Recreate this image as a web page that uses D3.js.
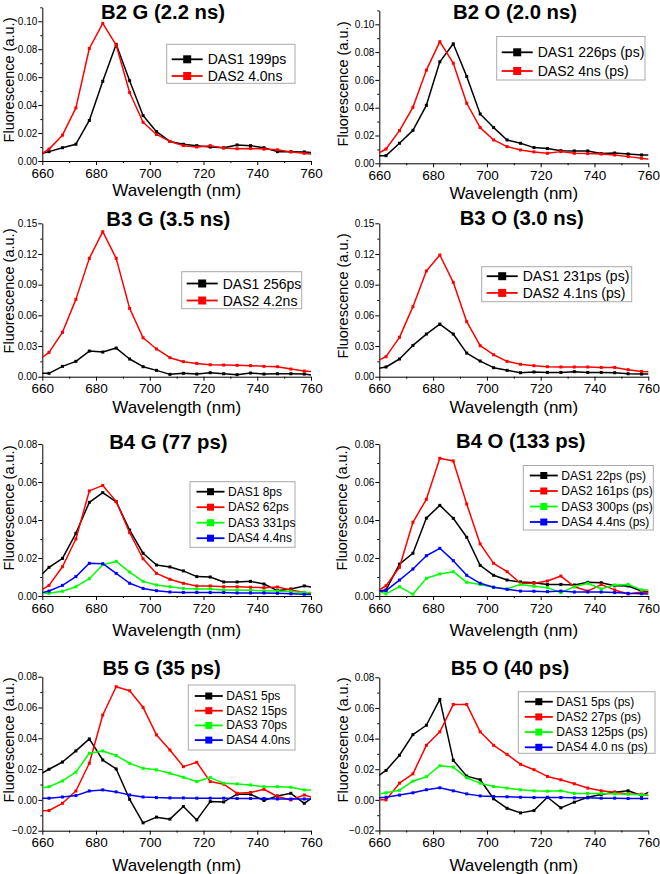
<!DOCTYPE html>
<html><head><meta charset="utf-8">
<script src="https://cdn.jsdelivr.net/npm/d3@7"></script>
<style>
body{margin:0;background:#fff}
svg{display:block}
text{font-family:Arial,"Liberation Sans",sans-serif;fill:#000}
</style>
</head><body>
<svg id="chart" width="660" height="874"></svg>
<script>
// ---------- DATA ----------
const wavelengths = [657.5,662.5,667.5,672.5,677.5,682.5,687.5,692.5,697.5,702.5,707.5,712.5,717.5,722.5,727.5,732.5,737.5,742.5,747.5,752.5,757.5,762.5];
const xTicks = [660,680,700,720,740,760];
const seriesColors = ["#000000","#ff0000","#00ff00","#0000ff"];

const b2g_das1 = [0.0043,0.0067,0.0095,0.012,0.029,0.057,0.0835,0.0575,0.0325,0.021,0.014,0.012,0.011,0.010,0.0095,0.0115,0.011,0.0095,0.0067,0.0067,0.0065,0.0055];
const b2g_das2 = [0.0025,0.0085,0.0185,0.038,0.0805,0.0985,0.083,0.049,0.0277,0.019,0.014,0.011,0.010,0.011,0.0093,0.0088,0.009,0.0085,0.008,0.0065,0.0055,0.0045];
const b2g_labels = ["DAS1 199ps","DAS2 4.0ns"];

const b2o_das1 = [0.0055,0.0055,0.0144,0.0237,0.0417,0.073,0.086,0.0624,0.0355,0.0257,0.0168,0.0144,0.0113,0.0106,0.0091,0.0089,0.0089,0.007,0.0074,0.0067,0.006,0.006];
const b2o_das2 = [0.005,0.0103,0.0235,0.0403,0.067,0.0875,0.072,0.0432,0.0257,0.0168,0.012,0.0096,0.0082,0.0072,0.0084,0.0072,0.007,0.0067,0.006,0.0048,0.0036,0.0025];
const b2o_labels = ["DAS1 226ps (ps)","DAS2 4ns (ps)"];

const b3g_das1 = [0.0033,0.0033,0.0101,0.015,0.0251,0.0241,0.028,0.0173,0.0098,0.0062,0.0023,0.0033,0.0026,0.0039,0.0029,0.002,0.0036,0.0026,0.0029,0.0029,0.0026,0.0008];
const b3g_das2 = [0.014,0.0238,0.0434,0.0756,0.1157,0.1418,0.1157,0.0668,0.0381,0.0271,0.0186,0.0147,0.013,0.0117,0.0114,0.0111,0.0108,0.0101,0.0098,0.0075,0.0055,0.0045];
const b3g_labels = ["DAS1 256ps","DAS2 4.2ns"];

const b3o_das1 = [0.007,0.0095,0.0173,0.0306,0.0417,0.0515,0.0417,0.0231,0.0153,0.0088,0.0062,0.0039,0.0046,0.0042,0.0042,0.0049,0.0042,0.0042,0.0039,0.0029,0.0026,0.0026];
const b3o_das2 = [0.013,0.0196,0.0385,0.0685,0.1034,0.119,0.0923,0.0538,0.0303,0.0215,0.015,0.0121,0.0108,0.0098,0.0095,0.0095,0.0095,0.0091,0.0091,0.0068,0.0052,0.0045];
const b3o_labels = ["DAS1 231ps (ps)","DAS2 4.1ns (ps)"];

const b4g_das1 = [0.0081,0.0151,0.0198,0.033,0.0493,0.0544,0.0496,0.0347,0.0225,0.0163,0.0153,0.0132,0.0102,0.010,0.0074,0.0074,0.0077,0.0063,0.0028,0.0037,0.0053,0.0042];
const b4g_das2 = [0.0014,0.0056,0.0154,0.030,0.0553,0.0582,0.0498,0.0333,0.0196,0.0119,0.0088,0.0067,0.0053,0.0053,0.0049,0.0049,0.0046,0.0044,0.0047,0.0032,0.0019,0.001];
const b4g_das3 = [0.0014,0.0014,0.0025,0.0049,0.0091,0.0165,0.0182,0.0126,0.0077,0.0058,0.0049,0.004,0.0037,0.0037,0.0032,0.0032,0.003,0.0028,0.0026,0.0023,0.0019,0.0017];
const b4g_das4 = [0.001,0.0026,0.0056,0.0102,0.0172,0.017,0.0119,0.0067,0.004,0.0028,0.0021,0.0019,0.0019,0.0018,0.0018,0.0016,0.0016,0.0016,0.0014,0.0012,0.0009,0.0006];
const b4g_labels = ["DAS1 8ps","DAS2 62ps","DAS3 331ps","DAS4 4.4ns"];

const b4o_das1 = [0.002,0.0032,0.0168,0.0225,0.041,0.0477,0.0409,0.0309,0.0161,0.0109,0.0084,0.0074,0.007,0.006,0.0061,0.0058,0.0072,0.007,0.0054,0.0053,0.0026,0.002];
const b4o_das2 = [0.001,0.0054,0.0151,0.0388,0.0509,0.0725,0.0711,0.0484,0.0274,0.0172,0.0128,0.0067,0.0067,0.0079,0.0105,0.0049,0.0026,0.006,0.0032,0.0011,0.0021,0.0018];
const b4o_das3 = [0.0035,0.0011,0.0049,0.0009,0.0093,0.0116,0.0128,0.0072,0.006,0.0046,0.0037,0.0061,0.0051,0.0044,0.0018,0.0049,0.0067,0.0037,0.0058,0.0061,0.0032,0.0032];
const b4o_das4 = [0.002,0.0028,0.0084,0.0142,0.0212,0.0251,0.0186,0.0109,0.0067,0.0046,0.0035,0.0026,0.0025,0.0023,0.0026,0.0021,0.0021,0.0021,0.0018,0.0014,0.0012,0.001];
const b4o_labels = ["DAS1 22ps (ps)","DAS2 161ps (ps)","DAS3 300ps (ps)","DAS4 4.4ns (ps)"];

const b5g_das1 = [0.015,0.0199,0.0246,0.0318,0.0396,0.0259,0.0201,0.0004,-0.0149,-0.0112,-0.0125,-0.0043,-0.013,-0.0011,-0.0013,0.0037,0.0037,-0.0004,0.0026,0.0043,-0.0022,0.004];
const b5g_das2 = [-0.0073,-0.0069,-0.0022,0.0058,0.0238,0.0551,0.0735,0.0709,0.0601,0.0422,0.0324,0.0216,0.0244,0.0119,0.0102,0.0043,0.0048,0.0069,0.0022,0.0,0.0032,0.0005];
const b5g_das3 = [0.0068,0.0086,0.0123,0.018,0.0303,0.0318,0.0288,0.0238,0.0205,0.0195,0.0173,0.0147,0.0119,0.0145,0.0108,0.0104,0.0097,0.0086,0.0086,0.0082,0.0065,0.0063];
const b5g_das4 = [0.001,0.0011,0.0019,0.0028,0.0058,0.0065,0.0052,0.0032,0.0019,0.0015,0.0013,0.0013,0.0011,0.0011,0.0011,0.0009,0.0009,0.0009,0.0006,0.0006,0.0006,0.0006];
const b5g_labels = ["DAS1 5ps","DAS2 15ps","DAS3 70ps","DAS4 4.0ns"];

const b5o_das1 = [0.013,0.0192,0.0291,0.0426,0.0487,0.0656,0.0258,0.0155,0.0131,0.0007,-0.0055,-0.0085,-0.007,0.0017,-0.0052,-0.0015,0.0017,0.0035,0.005,0.0059,0.0028,0.007];
const b5o_das2 = [0.0,0.0,0.0109,0.017,0.0356,0.0444,0.0623,0.0623,0.0444,0.0356,0.0297,0.0232,0.0197,0.0153,0.0131,0.0105,0.0077,0.0059,0.005,0.0039,0.0037,0.002];
const b5o_das3 = [0.003,0.0046,0.0063,0.0122,0.0151,0.0223,0.0214,0.0144,0.0109,0.0087,0.0077,0.0066,0.0059,0.0057,0.0059,0.0042,0.0042,0.0042,0.0039,0.0037,0.0033,0.0028];
const b5o_das4 = [0.001,0.0017,0.0031,0.0046,0.0066,0.0079,0.0059,0.0039,0.0026,0.0022,0.002,0.0017,0.0015,0.0015,0.0015,0.0013,0.0013,0.0011,0.0011,0.0009,0.0009,0.0009];
const b5o_labels = ["DAS1 5ps (ps)","DAS2 27ps (ps)","DAS3 125ps (ps)","DAS4 4.0 ns (ps)"];

const titles = ["B2 G (2.2 ns)","B2 O (2.0 ns)","B3 G (3.5 ns)","B3 O (3.0 ns)","B4 G (77 ps)","B4 O (133 ps)","B5 G (35 ps)","B5 O (40 ps)"];
const yTicksA = [0,0.02,0.04,0.06,0.08,0.10];
const yTicksB = [0,0.03,0.06,0.09,0.12,0.15];
const yTicksC = [0,0.02,0.04,0.06,0.08];
const yTicksD = [-0.02,0,0.02,0.04,0.06,0.08];

// ---------- LAYOUT ----------
const L = {x0:42.3, x1:311}, R = {x0:379.3, x1:648.3};
const leg2 = {font:14, ms:8, ll:31, pad:5, gap:5};
const leg4 = {font:12, ms:7, ll:28, pad:6.5, gap:3.5};
const panels = [
 {col:L, series:[b2g_das1,b2g_das2], labels:b2g_labels, dom:[0,0.11], yp:[161,7.3], ticks:yTicksA, minorStep:0.01,
  title:[163,18.6], yt:[9,80], xtY:196, leg:Object.assign({x:166.7,y:44.3,w:128.3,h:39,first:15,row:16.7}, leg2)},
 {col:R, series:[b2o_das1,b2o_das2], labels:b2o_labels, dom:[0,0.11], yp:[163.3,10.4], ticks:yTicksA, minorStep:0.01,
  title:[515,18.6], yt:[343,84], xtY:198.5, leg:Object.assign({x:496.7,y:36.5,w:148.3,h:43.5,first:15.8,row:18.7}, leg2)},
 {col:L, series:[b3g_das1,b3g_das2], labels:b3g_labels, dom:[0,0.15], yp:[376.7,223.3], ticks:yTicksB, minorStep:0.015,
  title:[168.3,225.7], yt:[9,291], xtY:412.5, leg:Object.assign({x:181.7,y:271.7,w:120,h:37,first:11.8,row:17}, leg2)},
 {col:R, series:[b3o_das1,b3o_das2], labels:b3o_labels, dom:[0,0.15], yp:[376.7,223.3], ticks:yTicksB, minorStep:0.015,
  title:[521.7,225], yt:[343,296], xtY:412.5, leg:Object.assign({x:481.7,y:266.7,w:150,h:35,first:9.5,row:16.7}, leg2)},
 {col:L, series:[b4g_das1,b4g_das2,b4g_das3,b4g_das4], labels:b4g_labels, dom:[0,0.08], yp:[596,444], ticks:yTicksC, minorStep:0.01,
  title:[168.3,449.3], yt:[9,508], xtY:636, leg:Object.assign({x:190,y:481.7,w:105,h:65.6,first:10,row:15.5}, leg4)},
 {col:R, series:[b4o_das1,b4o_das2,b4o_das3,b4o_das4], labels:b4o_labels, dom:[0,0.08], yp:[596,444], ticks:yTicksC, minorStep:0.01,
  title:[520.8,448.3], yt:[342,508], xtY:636, leg:Object.assign({x:523.3,y:465.5,w:130,h:64.5,first:10,row:15.5}, leg4)},
 {col:L, series:[b5g_das1,b5g_das2,b5g_das3,b5g_das4], labels:b5g_labels, dom:[-0.02,0.08], yp:[830.7,676.7], ticks:yTicksD, minorStep:0.01,
  title:[161.7,675], yt:[9,740], xtY:871, leg:Object.assign({x:188.3,y:685,w:106.7,h:65,first:11,row:14.7}, leg4)},
 {col:R, series:[b5o_das1,b5o_das2,b5o_das3,b5o_das4], labels:b5o_labels, dom:[-0.02,0.08], yp:[830.5,677.3], ticks:yTicksD, minorStep:0.01,
  title:[510,675], yt:[343,740], xtY:871, leg:Object.assign({x:518.3,y:691.7,w:136.7,h:61.6,first:10,row:15.2}, leg4)}
];

const svg = d3.select("#chart");
const fmt = d3.format(".2f");

panels.forEach((p, pi) => {
  const g = svg.append("g");
  const x = d3.scaleLinear().domain([660,760]).range([p.col.x0, p.col.x1]);
  const y = d3.scaleLinear().domain(p.dom).range(p.yp);
  const yBottom = p.yp[0];

  const cid = "clip" + pi;
  svg.append("clipPath").attr("id", cid).append("rect")
    .attr("x", p.col.x0).attr("y", p.yp[1] - 40).attr("width", p.col.x1 - p.col.x0).attr("height", yBottom - p.yp[1] + 80);

  // minor ticks
  const xMinor = d3.range(670, 760, 20);
  g.append("g").attr("transform", `translate(0,${yBottom})`)
    .call(d3.axisBottom(x).tickValues(xMinor).tickSize(2).tickFormat(""))
    .call(s => s.select(".domain").remove()).selectAll("line").attr("stroke","#000");
  const yMinor = [];
  for (let v = p.dom[0] + p.minorStep; v < p.dom[1] + 1e-9; v += p.minorStep * 2) yMinor.push(+v.toFixed(4));
  g.append("g").attr("transform", `translate(${p.col.x0},0)`)
    .call(d3.axisLeft(y).tickValues(yMinor).tickSize(2).tickFormat(""))
    .call(s => s.select(".domain").remove()).selectAll("line").attr("stroke","#000");

  // axes
  const xa = g.append("g").attr("transform", `translate(0,${yBottom})`)
    .call(d3.axisBottom(x).tickValues(xTicks).tickSize(4).tickPadding(3).tickSizeOuter(0));
  xa.selectAll("text").attr("font-size", 13.5).attr("font-family", "Arial, 'Liberation Sans', sans-serif");
  const ya = g.append("g").attr("transform", `translate(${p.col.x0},0)`)
    .call(d3.axisLeft(y).tickValues(p.ticks).tickFormat(fmt).tickSize(4).tickPadding(1).tickSizeOuter(0));
  ya.selectAll("text").attr("font-size", 10).attr("font-family", "Arial, 'Liberation Sans', sans-serif");
  g.selectAll(".domain").attr("stroke","#000").attr("stroke-width",1);
  g.selectAll(".tick line").attr("stroke","#000");

  // axis titles
  g.append("text").attr("x", (p.col.x0 + p.col.x1) / 2).attr("y", p.xtY)
    .attr("text-anchor","middle").attr("font-size", 17).text("Wavelength (nm)");
  g.append("text").attr("transform", `translate(${p.yt[0]},${p.yt[1]}) rotate(-90)`)
    .attr("text-anchor","middle").attr("dominant-baseline","central").attr("font-size", 14.5)
    .text("Fluorescence (a.u.)");

  // series
  const plot = g.append("g").attr("clip-path", `url(#${cid})`);
  const line = d3.line().x((d,i) => x(wavelengths[i])).y(d => y(d));
  p.series.forEach((s, si) => {
    plot.append("path").datum(s).attr("d", line)
      .attr("fill","none").attr("stroke", seriesColors[si]).attr("stroke-width", 1.5).attr("stroke-linejoin","round");
    plot.selectAll(null).data(s).enter().append("rect")
      .attr("x", (d,i) => x(wavelengths[i]) - 1.5).attr("y", d => y(d) - 1.5)
      .attr("width", 3).attr("height", 3).attr("fill", seriesColors[si]);
  });

  // title
  g.append("text").attr("x", p.title[0]).attr("y", p.title[1]).attr("text-anchor","middle")
    .attr("font-size", 20.3).attr("font-weight","bold").text(titles[pi]);

  // legend
  const lg = p.leg;
  const leg = g.append("g");
  leg.append("rect").attr("x", lg.x).attr("y", lg.y).attr("width", lg.w).attr("height", lg.h)
    .attr("fill","#fff").attr("stroke","#aaa").attr("stroke-width",1);
  p.labels.forEach((lab, li) => {
    const cy = lg.y + lg.first + li * lg.row;
    const lx = lg.x + lg.pad;
    leg.append("line").attr("x1", lx).attr("x2", lx + lg.ll).attr("y1", cy).attr("y2", cy)
      .attr("stroke", seriesColors[li]).attr("stroke-width", 1.8);
    leg.append("rect").attr("x", lx + lg.ll/2 - lg.ms/2).attr("y", cy - lg.ms/2)
      .attr("width", lg.ms).attr("height", lg.ms).attr("fill", seriesColors[li]);
    leg.append("text").attr("x", lx + lg.ll + lg.gap).attr("y", cy).attr("dominant-baseline","central")
      .attr("font-size", lg.font).text(lab);
  });
});
</script>
</body></html>
